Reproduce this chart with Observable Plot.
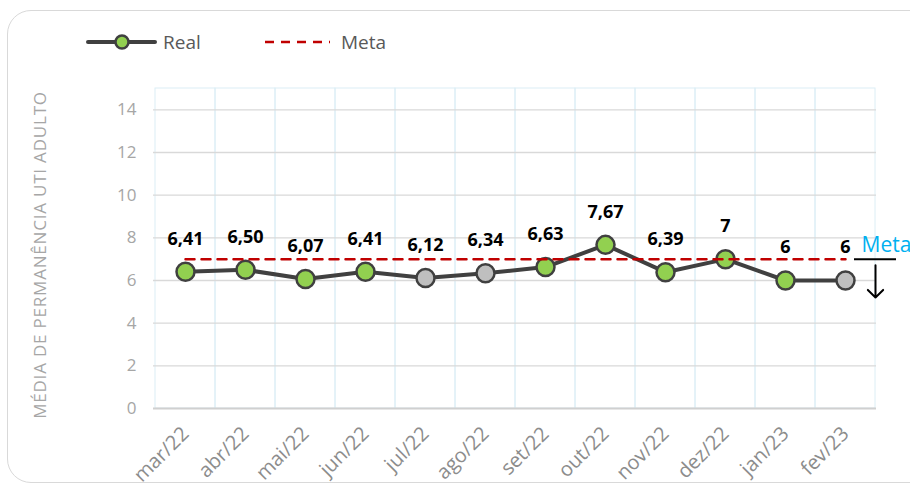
<!DOCTYPE html>
<html>
<head>
<meta charset="utf-8">
<script src="https://cdn.jsdelivr.net/npm/d3@7"></script>
<script src="https://cdn.jsdelivr.net/npm/@observablehq/plot@0.6"></script>
<style>
  html, body { margin: 0; padding: 0; background: #fff; overflow: hidden; }
  #wrap { position: relative; width: 910px; height: 487px; font-family: "Open Sans", sans-serif; }
  #card { position: absolute; left: 7px; top: 10px; width: 930px; height: 473px; border: 1.5px solid #d9d9d9; border-radius: 24px; box-sizing: border-box; }
  #legend { position: absolute; left: 0; top: 0; }
  #ytitle { position: absolute; left: 39px; top: 255px; transform: translate(-50%, -50%) rotate(-90deg); white-space: nowrap; color: #a6a6a6; font-size: 17px; letter-spacing: 0.8px; }
  #chart { position: absolute; left: 0; top: 0; }
</style>
</head>
<body>
<div id="wrap">
  <div id="card"></div>
  <svg id="legend" width="910" height="70">
    <line x1="88" y1="42" x2="155" y2="42" stroke="#404040" stroke-width="4" stroke-linecap="round"/>
    <circle cx="122" cy="42" r="6.5" fill="#92D050" stroke="#404040" stroke-width="2.5"/>
    <text x="163" y="49" font-family="Open Sans" font-size="19" fill="#595959">Real</text>
    <line x1="265" y1="42" x2="330" y2="42" stroke="#C00000" stroke-width="2.5" stroke-dasharray="9,7"/>
    <text x="341" y="49" font-family="Open Sans" font-size="19" fill="#595959">Meta</text>
  </svg>
  <div id="ytitle">MÉDIA DE PERMANÊNCIA UTI ADULTO</div>
  <div id="chart"></div>
</div>
<script>
const months = ["mar/22","abr/22","mai/22","jun/22","jul/22","ago/22","set/22","out/22","nov/22","dez/22","jan/23","fev/23"];
const real = [6.41, 6.50, 6.07, 6.41, 6.12, 6.34, 6.63, 7.67, 6.39, 7, 6, 6];
const labels = ["6,41","6,50","6,07","6,41","6,12","6,34","6,63","7,67","6,39","7","6","6"];
const status = ["ok","ok","ok","ok","parcial","parcial","ok","ok","ok","ok","ok","parcial"];
const meta = 7;
const yTicks = [0, 2, 4, 6, 8, 10, 12, 14];
const yMax = 15;
const metaLabel = "Meta";
const arrowFrom = 6.72;
const arrowTo = 5.2;

const data = months.map((m, i) => ({mes: m, valor: real[i], rotulo: labels[i], status: status[i]}));
const metaData = months.map(m => ({mes: m, meta}));
const last = [{mes: months[months.length - 1], meta, de: arrowFrom, ate: arrowTo}];

const chart = Plot.plot({
  width: 910,
  height: 487,
  marginLeft: 153,
  marginRight: 34,
  marginTop: 88,
  marginBottom: 79,
  style: {fontFamily: "Open Sans", background: "transparent", overflow: "visible"},
  x: {type: "band", domain: months, padding: 0, label: null},
  y: {domain: [0, yMax], label: null},
  color: {domain: ["ok", "parcial"], range: ["#92D050", "#BFBFBF"]},
  marks: [
    Plot.cell(months, {x: d => d, fill: "none", stroke: "#DCEEF5", strokeWidth: 1, inset: 0}),
    Plot.ruleY(yTicks.filter(t => t > 0), {stroke: "#d9d9d9", strokeWidth: 1.3}),
    Plot.ruleY([0], {stroke: "#d0d0d0", strokeWidth: 2}),
    Plot.axisY({ticks: yTicks, tickSize: 0, tickPadding: 17, fontSize: 17, fill: "#a6a6a6", label: null}),
    Plot.axisX({tickRotate: -45, tickSize: 0, tickPadding: 22, fontSize: 20, fill: "#8c8c8c", label: null}),
    Plot.line(data, {x: "mes", y: "valor", stroke: "#404040", strokeWidth: 4}),
    Plot.dot(data, {x: "mes", y: "valor", fill: "status", stroke: "#404040", strokeWidth: 2.5, r: 9}),
    Plot.line(metaData, {x: "mes", y: "meta", stroke: "#C00000", strokeWidth: 2.5, strokeDasharray: "9,7"}),
    Plot.text(data, {x: "mes", y: "valor", text: "rotulo", dy: -33, fontWeight: "bold", fontSize: 18, fill: "black"}),
    Plot.text(last, {x: "mes", y: "meta", text: () => metaLabel, dx: 16, dy: -14, textAnchor: "start", fill: "#00B0F0", fontSize: 21}),
    Plot.tickY(last, {x: "mes", y: "meta", dx: 21, insetLeft: 18, stroke: "black", strokeWidth: 2}),
    Plot.arrow(last, {x1: "mes", x2: "mes", y1: "de", y2: "ate", dx: 30, stroke: "black", strokeWidth: 2, headLength: 16, headAngle: 90})
  ]
});
document.getElementById("chart").appendChild(chart);
</script>
</body>
</html>
